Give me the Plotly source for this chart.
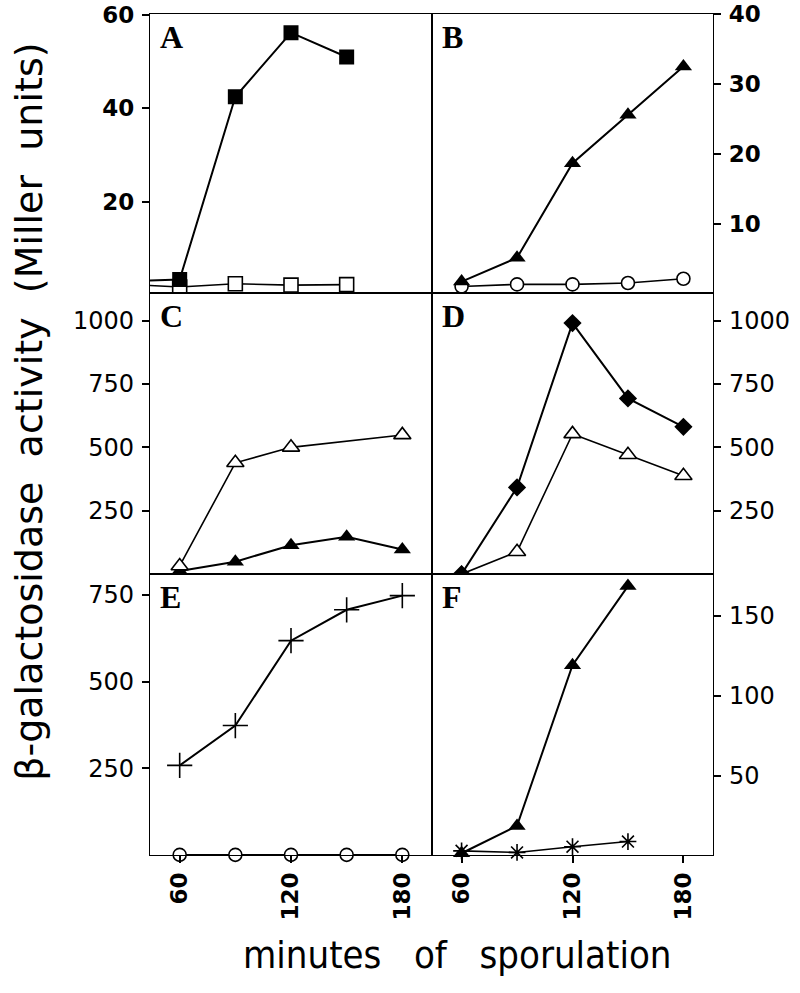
import plotly.graph_objects as go
from plotly.subplots import make_subplots

# ---------------- data ----------------
time5 = [60, 90, 120, 150, 180]
time4 = [60, 90, 120, 150]

a_time = [30, 60, 90, 120, 150]
a_filled = [3.0, 3.4, 42.5, 56.2, 51.0]
a_open = [2.4, 1.8, 2.5, 2.2, 2.3]

b_filled = [1.8, 5.2, 18.7, 25.6, 32.5]
b_open = [1.1, 1.4, 1.4, 1.6, 2.2]

c_open_time = [60, 90, 120, 180]
c_open = [32, 439, 500, 549]
c_filled = [12, 49, 114, 147, 97]

d_filled = [0, 342, 990, 693, 581]
d_open = [0, 88, 553, 471, 388]

e_cross = [258, 373, 618, 707, 748]
e_open = [0, 0, 0, 0, 0]

f_filled = [1.5, 18.6, 119, 168.5]
f_star = [3, 2, 5.6, 8.8]

x_ticks = [60, 120, 180]
a_ticks = [20, 40, 60]
b_ticks = [10, 20, 30, 40]
cd_ticks = [250, 500, 750, 1000]
e_ticks = [250, 500, 750]
f_ticks = [50, 100, 150]
panel_labels = ["A", "B", "C", "D", "E", "F"]

y_title = "β-galactosidase\u00a0 activity\u00a0 (Miller\u00a0 units)"
x_title = "minutes\u00a0\u00a0 of\u00a0\u00a0 sporulation"

# ---------------- figure ----------------
fig = make_subplots(rows=3, cols=2, horizontal_spacing=0, vertical_spacing=0)

BLACK = "black"


def filled(x, y, sym, size, row, col, clip=True, width=2):
    fig.add_trace(go.Scatter(x=x, y=y, mode="lines+markers",
                             line=dict(color=BLACK, width=width),
                             marker=dict(symbol=sym, size=size, color=BLACK,
                                         line=dict(color=BLACK, width=0)),
                             cliponaxis=clip, showlegend=False), row=row, col=col)


def hollow(x, y, sym, size, row, col, clip=True, width=1.6):
    fig.add_trace(go.Scatter(x=x, y=y, mode="lines+markers",
                             line=dict(color=BLACK, width=width),
                             marker=dict(symbol=sym, size=size, color="white",
                                         line=dict(color=BLACK, width=1.6)),
                             cliponaxis=clip, showlegend=False), row=row, col=col)


# A
hollow(a_time, a_open, "square", 14, 1, 1, clip=True)
filled(a_time, a_filled, "square", 15, 1, 1, clip=True)
# B
hollow(time5, b_open, "circle", 13, 1, 2, clip=False)
filled(time5, b_filled, "triangle-up", 15, 1, 2, clip=False)
# C
filled(time5, c_filled, "triangle-up", 15, 2, 1, clip=True)
hollow(c_open_time, c_open, "triangle-up", 15, 2, 1, clip=True)
# D
hollow(time5, d_open, "triangle-up", 15, 2, 2, clip=True)
filled(time5, d_filled, "diamond", 14, 2, 2, clip=True)
# E
hollow(time5, e_open, "circle", 13, 3, 1, clip=False)
fig.add_trace(go.Scatter(x=time5, y=e_cross, mode="lines+markers",
                         line=dict(color=BLACK, width=2),
                         marker=dict(symbol="cross-thin", size=18,
                                     line=dict(color=BLACK, width=1.6)),
                         cliponaxis=False, showlegend=False), row=3, col=1)
# F
filled(time4, f_filled, "triangle-up", 15, 3, 2, clip=False)
fig.add_trace(go.Scatter(x=time4, y=f_star, mode="lines+markers",
                         line=dict(color=BLACK, width=1.6),
                         marker=dict(symbol="asterisk-open", size=14,
                                     line=dict(color=BLACK, width=1.6)),
                         cliponaxis=False, showlegend=False), row=3, col=2)

# ---------------- axes ----------------
xsplit = 282 / 563
row_dom = {1: [0.668, 1.0], 2: [0.334, 0.668], 3: [0.0, 0.334]}
col_dom = {1: [0.0, xsplit], 2: [xsplit, 1.0]}
yranges = {(1, 1): [0.47, 60.2], (1, 2): [0.14, 40],
           (2, 1): [0, 1108], (2, 2): [0, 1108],
           (3, 1): [-0.5, 810], (3, 2): [0.4, 176]}
yticks = {(1, 1): a_ticks, (1, 2): b_ticks, (2, 1): cd_ticks, (2, 2): cd_ticks,
          (3, 1): e_ticks, (3, 2): f_ticks}

reg_font = dict(family="DejaVu Sans, Verdana, sans-serif", size=24, color=BLACK)
bold_font = dict(family="DejaVu Sans, Verdana, sans-serif", size=23, color=BLACK,
                 weight="bold")
x_font = dict(family="DejaVu Sans, Verdana, sans-serif", size=23, color=BLACK,
              weight="bold")

for r in (1, 2, 3):
    for c in (1, 2):
        fig.update_xaxes(domain=col_dom[c], range=[44, 196], showgrid=False,
                         zeroline=False, showline=True, linecolor=BLACK,
                         linewidth=1.4, mirror=True, automargin=False,
                         tickvals=x_ticks if r == 3 else [],
                         ticks="outside" if r == 3 else "", ticklen=7,
                         tickwidth=1.5, tickcolor=BLACK, tickangle=-90,
                         showticklabels=(r == 3), tickfont=x_font,
                         ticklabeloverflow="allow",
                         row=r, col=c)
        fig.update_yaxes(domain=row_dom[r], range=yranges[(r, c)], showgrid=False,
                         zeroline=False, showline=True, linecolor=BLACK,
                         linewidth=1.4, mirror=True, automargin=False,
                         side="left" if c == 1 else "right",
                         tickvals=yticks[(r, c)], ticks="outside", ticklen=7,
                         tickwidth=1.5, tickcolor=BLACK, ticklabelstandoff=3,
                         tickfont=bold_font if r == 1 else reg_font,
                         ticklabeloverflow="allow",
                         row=r, col=c)

# panel letters
for i, lab in enumerate(panel_labels):
    r, c = i // 2 + 1, i % 2 + 1
    idx = (r - 1) * 2 + c
    xa = "x" if idx == 1 else f"x{idx}"
    ya = "y" if idx == 1 else f"y{idx}"
    fig.add_annotation(text=f"<b>{lab}</b>", xref=f"{xa} domain", yref=f"{ya} domain",
                       x=0.03, y=0.99, xanchor="left", yanchor="top",
                       showarrow=False,
                       font=dict(family="Liberation Serif, Times New Roman, serif",
                                 size=32, color=BLACK))

fig.add_annotation(text=y_title, xref="paper", yref="paper", x=-0.215, y=0.527,
                   xanchor="center", yanchor="middle", textangle=-90, showarrow=False,
                   font=dict(family="DejaVu Sans, sans-serif", size=38, color=BLACK))
fig.add_annotation(text=x_title, xref="paper", yref="paper", x=0.547, y=-0.119,
                   xanchor="center", yanchor="middle", showarrow=False,
                   font=dict(family="Liberation Sans Narrow, DejaVu Sans Condensed, Arial Narrow, DejaVu Sans, sans-serif",
                             size=38, color=BLACK))

fig.update_layout(width=800, height=993, plot_bgcolor="white", paper_bgcolor="white",
                  margin=dict(l=150, r=87, t=14, b=138), showlegend=False)

fig.write_html("out.html", config={"displayModeBar": False},
               post_script="document.body.style.margin='0px';")
